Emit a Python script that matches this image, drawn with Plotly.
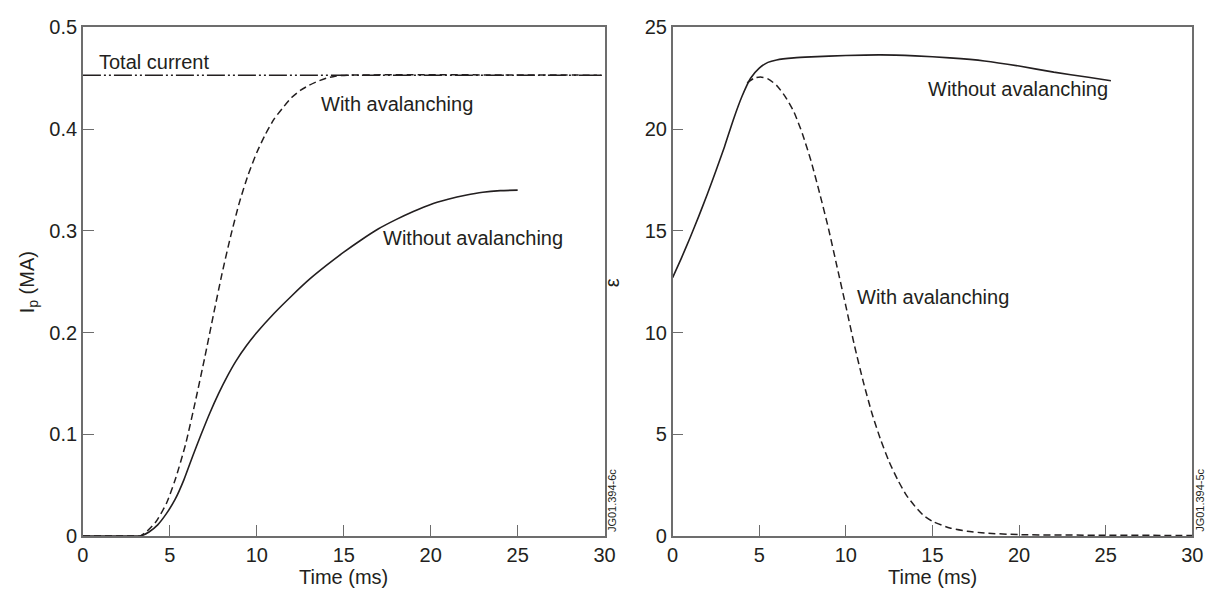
import plotly.graph_objects as go

# ---- Left panel: plasma current I_p (MA) vs time (ms) ----
t_total = [0, 30]
ip_total = [0.453, 0.453]

t_with = [0, 3.0, 3.3, 3.7, 4.2, 4.8, 5.3, 5.9, 6.5, 7.0, 7.5, 8.0, 8.5, 9.0,
          9.5, 10.0, 10.5, 11.0, 11.5, 12.0, 12.5, 13.0, 13.5, 14.0, 14.5, 15.2, 30]
ip_with = [0, 0, 0, 0.005, 0.014, 0.032, 0.055, 0.09, 0.135, 0.175, 0.217, 0.258,
           0.295, 0.328, 0.355, 0.377, 0.395, 0.41, 0.421, 0.431, 0.438, 0.443,
           0.447, 0.45, 0.452, 0.453, 0.453]

t_without = [0, 3.0, 3.3, 3.8, 4.3, 4.8, 5.3, 5.8, 6.3, 6.8, 7.3, 7.8, 8.3, 8.8,
             9.4, 10, 11, 12, 13, 14, 15, 16, 17, 18, 19, 20, 21, 22, 23, 24, 25]
ip_without = [0, 0, 0, 0.004, 0.011, 0.022, 0.036, 0.055, 0.078, 0.1, 0.121, 0.14,
              0.157, 0.172, 0.187, 0.2, 0.219, 0.236, 0.252, 0.266, 0.279, 0.291,
              0.302, 0.311, 0.319, 0.326, 0.331, 0.335, 0.338, 0.3395, 0.34]

# ---- Right panel: epsilon vs time (ms) ----
t_eps_without = [0, 0.5, 1.0, 1.5, 2.0, 2.5, 3.0, 3.5, 4.0, 4.5, 5.0, 5.5, 6.0,
                 7.0, 8.0, 10.0, 12.0, 14.0, 16.0, 18.0, 20.0, 22.0, 24.0, 25.3]
eps_without = [12.7, 13.65, 14.65, 15.7, 16.8, 17.95, 19.15, 20.45, 21.6, 22.5,
               23.0, 23.28, 23.4, 23.5, 23.55, 23.62, 23.65, 23.6, 23.5, 23.35,
               23.1, 22.8, 22.55, 22.38]

t_eps_with = [4.3, 4.7, 5.07, 5.5, 6.0, 6.5, 7.0, 7.5, 8.0, 8.5, 9.0, 9.5, 10.0,
              10.5, 11.0, 11.5, 12.0, 12.5, 13.0, 13.5, 14.0, 14.5, 15.0, 16.0,
              17.0, 18.0, 20.0, 25.0, 30.0]
eps_with = [22.27, 22.5, 22.56, 22.47, 22.15, 21.6, 20.85, 19.75, 18.4, 16.8, 15.1,
            13.2, 11.3, 9.35, 7.6, 6.05, 4.75, 3.65, 2.75, 2.0, 1.45, 1.0, 0.72,
            0.4, 0.24, 0.15, 0.07, 0.04, 0.03]

x_ticks = [0, 5, 10, 15, 20, 25, 30]
ip_ticks = [0, 0.1, 0.2, 0.3, 0.4, 0.5]
ip_ticklabels = ["0", "0.1", "0.2", "0.3", "0.4", "0.5"]
eps_ticks = [0, 5, 10, 15, 20, 25]

FONT = "Liberation Sans, Arial, Helvetica, sans-serif"
INK = "#231f20"
AXIS = "#6d6d6d"

W, H = 1227, 601
px = lambda v: v / W
py = lambda v: (H - v) / H

fig = go.Figure()

solid = dict(color=INK, width=1.6)
dashed = dict(color=INK, width=1.5, dash="7px,4px")
dashdot = dict(color=INK, width=1.4, dash="18px,3px,2px,3px,2px,3px")

fig.add_trace(go.Scatter(x=t_total, y=ip_total, mode="lines", line=dashdot,
                         xaxis="x", yaxis="y"))
fig.add_trace(go.Scatter(x=t_with, y=ip_with, mode="lines",
                         line=dict(**dashed, shape="spline", smoothing=0.6),
                         xaxis="x", yaxis="y"))
fig.add_trace(go.Scatter(x=t_without, y=ip_without, mode="lines",
                         line=dict(**solid, shape="spline", smoothing=0.6),
                         xaxis="x", yaxis="y"))

fig.add_trace(go.Scatter(x=t_eps_with, y=eps_with, mode="lines",
                         line=dict(**dashed, shape="spline", smoothing=0.6),
                         xaxis="x2", yaxis="y2"))
fig.add_trace(go.Scatter(x=t_eps_without, y=eps_without, mode="lines",
                         line=dict(**solid, shape="spline", smoothing=0.6),
                         xaxis="x2", yaxis="y2"))

axis_common = dict(
    showgrid=False, zeroline=False, showline=True, linecolor=AXIS, linewidth=1.5,
    mirror=True, ticks="inside", ticklen=11, tickwidth=1.2, tickcolor=AXIS,
    tickfont=dict(family=FONT, size=20, color=INK),
)

ydom = [py(545), py(17)]
fig.update_layout(
    width=W, height=H,
    margin=dict(l=0, r=0, t=0, b=0),
    paper_bgcolor="white", plot_bgcolor="white",
    showlegend=False,
    xaxis=dict(domain=[px(78), px(607)], range=[0, 30], tickvals=x_ticks,
               anchor="y", **axis_common),
    yaxis=dict(domain=ydom, range=[0, 0.5], tickvals=ip_ticks,
               ticktext=ip_ticklabels, anchor="x", **axis_common),
    xaxis2=dict(domain=[px(676), px(1203)], range=[0, 30], tickvals=x_ticks,
                anchor="y2", **axis_common),
    yaxis2=dict(domain=ydom, range=[0, 25], tickvals=eps_ticks,
                anchor="x2", **axis_common),
)

label_font = dict(family=FONT, size=20, color=INK)
small_font = dict(family=FONT, size=11, color=INK)

annotations = [
    # curve labels, left panel
    dict(x=0.8, y=0.4664, xref="x", yref="y", text="Total current",
         xanchor="left", yanchor="middle"),
    dict(x=13.6, y=0.4246, xref="x", yref="y", text="With avalanching",
         xanchor="left", yanchor="middle"),
    dict(x=17.13, y=0.293, xref="x", yref="y", text="Without avalanching",
         xanchor="left", yanchor="middle"),
    # curve labels, right panel
    dict(x=14.64, y=21.97, xref="x2", yref="y2", text="Without avalanching",
         xanchor="left", yanchor="middle"),
    dict(x=10.5, y=11.74, xref="x2", yref="y2", text="With avalanching",
         xanchor="left", yanchor="middle"),
    # axis titles
    dict(x=px(342.5), y=py(587), xref="paper", yref="paper", text="Time (ms)",
         xanchor="center", yanchor="middle"),
    dict(x=px(939.5), y=py(587), xref="paper", yref="paper", text="Time (ms)",
         xanchor="center", yanchor="middle"),
    dict(x=px(23), y=py(282), xref="paper", yref="paper",
         text="I<sub>p</sub> (MA)", textangle=-90,
         xanchor="center", yanchor="middle"),
    dict(x=px(614), y=py(282), xref="paper", yref="paper", text="ε",
         textangle=-90, xanchor="center", yanchor="middle"),
]
for a in annotations:
    a.update(showarrow=False, font=label_font)

# figure reference codes along the inner right edges
annotations += [
    dict(x=px(614), y=py(543), xref="paper", yref="paper", text="JG01.394-6c",
         textangle=-90, xanchor="center", yanchor="bottom", showarrow=False,
         font=small_font),
    dict(x=px(1210), y=py(543), xref="paper", yref="paper", text="JG01.394-5c",
         textangle=-90, xanchor="center", yanchor="bottom", showarrow=False,
         font=small_font),
]
fig.update_layout(annotations=annotations)

fig.write_html("out.html")
